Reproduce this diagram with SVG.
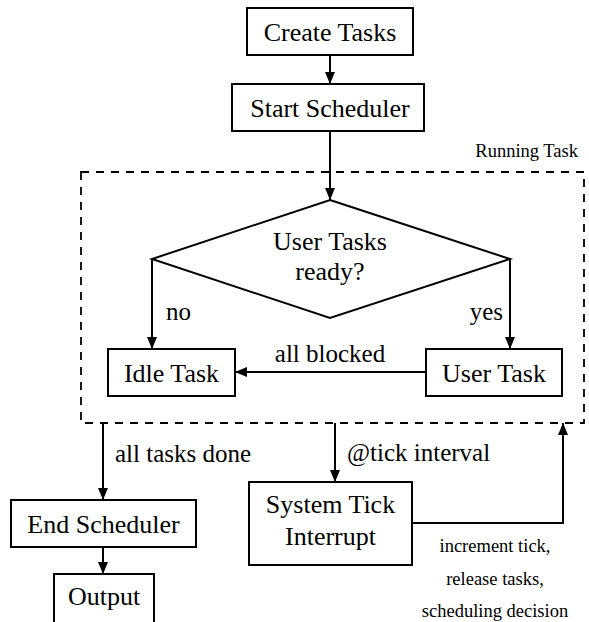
<svg xmlns="http://www.w3.org/2000/svg" width="589" height="622" viewBox="0 0 589 622">
<style>
.box{fill:#fff;stroke:#000;stroke-width:2}
.t{font-family:"Liberation Serif",serif;font-size:26px;fill:#000;text-anchor:middle}
.l{font-family:"Liberation Serif",serif;font-size:25px;fill:#000}
.s{font-family:"Liberation Serif",serif;font-size:18.5px;fill:#000}
.e{fill:none;stroke:#000;stroke-width:2}
</style>
<defs>
<marker id="ah" viewBox="0 0 12 10" refX="12" refY="5" markerWidth="12" markerHeight="10" markerUnits="userSpaceOnUse" orient="auto">
<path d="M0,0 L12,5 L0,10 Z" fill="#000"/>
</marker>
</defs>
<g id="running-task">
<rect x="81" y="172" width="503" height="251" fill="none" stroke="#000" stroke-width="1.8" stroke-dasharray="8 7"/>
<text class="s" x="578" y="157" text-anchor="end">Running Task</text>
</g>
<g id="connectors">
<line class="e" x1="330" y1="55" x2="330" y2="84" marker-end="url(#ah)"/>
<line class="e" x1="330" y1="131" x2="330" y2="200" marker-end="url(#ah)"/>
<polyline class="e" points="152,259 152,349" marker-end="url(#ah)"/>
<polyline class="e" points="510,259 510,349" marker-end="url(#ah)"/>
<line class="e" x1="426" y1="372" x2="235" y2="372" marker-end="url(#ah)"/>
<line class="e" x1="103" y1="423" x2="103" y2="500" marker-end="url(#ah)"/>
<line class="e" x1="103" y1="547" x2="103" y2="574" marker-end="url(#ah)"/>
<line class="e" x1="335" y1="423" x2="335" y2="482" marker-end="url(#ah)"/>
<polyline class="e" points="412,523 563,523 563,423" marker-end="url(#ah)"/>
<text class="l" x="166" y="320">no</text>
<text class="l" x="503" y="320" text-anchor="end">yes</text>
<text class="l" x="330" y="362" text-anchor="middle">all blocked</text>
<text class="l" x="115" y="462">all tasks done</text>
<text class="l" x="347" y="461">@tick interval</text>
<text class="s" x="495" y="552" text-anchor="middle">increment tick,</text>
<text class="s" x="495" y="585" text-anchor="middle">release tasks,</text>
<text class="s" x="495" y="617" text-anchor="middle">scheduling decision</text>
</g>
<g id="create-tasks">
<rect class="box" x="247" y="8" width="166" height="47"/>
<text class="t" x="330" y="40.5">Create Tasks</text>
</g>
<g id="start-scheduler">
<rect class="box" x="232" y="84" width="192" height="47"/>
<text class="t" x="330" y="116.5">Start Scheduler</text>
</g>
<g id="decision">
<polygon class="box" points="330,200 510,259 330,318 152,259"/>
<text class="t" x="330" y="250">User Tasks</text>
<text class="t" x="330" y="280">ready?</text>
</g>
<g id="idle-task">
<rect class="box" x="108" y="349" width="127" height="47"/>
<text class="t" x="171.5" y="381.5">Idle Task</text>
</g>
<g id="user-task">
<rect class="box" x="426" y="349" width="136" height="47"/>
<text class="t" x="494" y="381.5">User Task</text>
</g>
<g id="end-scheduler">
<rect class="box" x="11" y="500" width="185" height="47"/>
<text class="t" x="103.5" y="532.5">End Scheduler</text>
</g>
<g id="output">
<rect class="box" x="54" y="574" width="100" height="60"/>
<text class="t" x="104" y="605">Output</text>
</g>
<g id="system-tick">
<rect class="box" x="249" y="482" width="163" height="83"/>
<text class="t" x="330.5" y="513">System Tick</text>
<text class="t" x="330.5" y="545">Interrupt</text>
</g>
</svg>
